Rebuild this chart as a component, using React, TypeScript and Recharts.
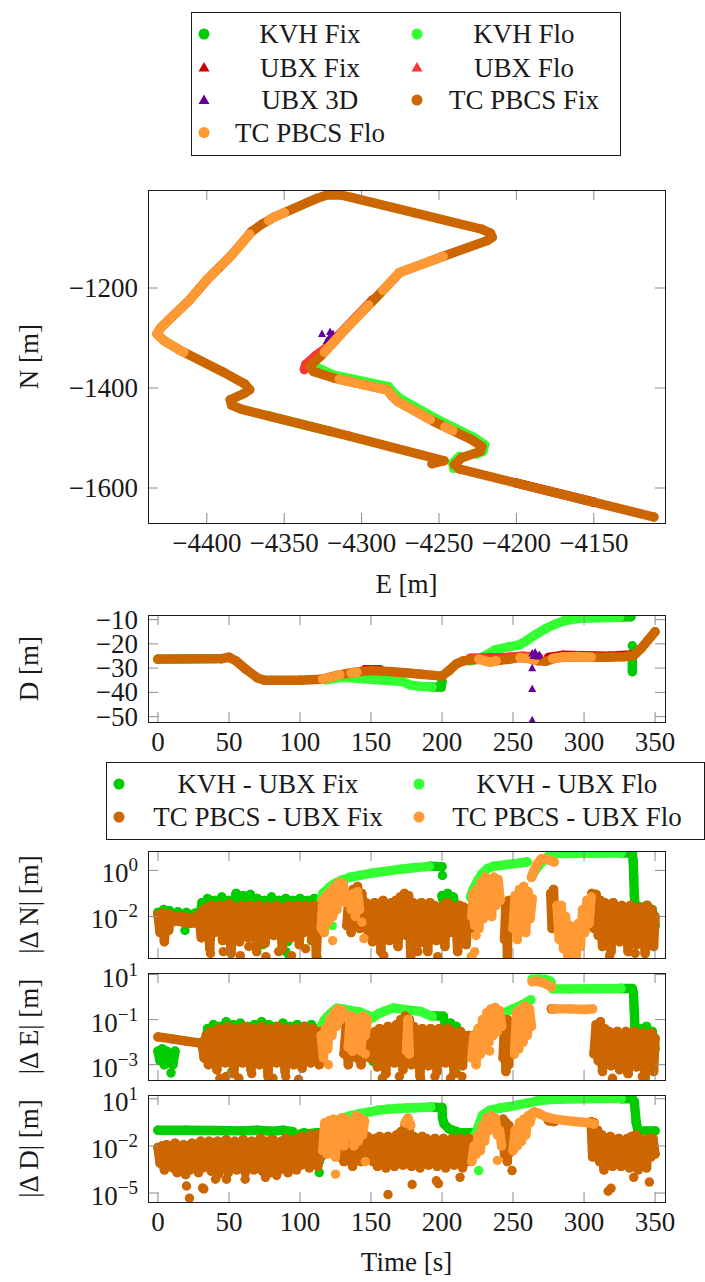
import { ScatterChart, Scatter, XAxis, YAxis } from "recharts";

const FONT = "'Liberation Serif', 'Times New Roman', serif";
const INK = "#1a1a1a";
const TICK = "#8c8c8c";

const KVH_FIX = "#00cc00";
const KVH_FLO = "#33ff33";
const UBX_FIX = "#cc0000";
const UBX_FLO = "#ff3333";
const UBX_3D = "#660099";
const TC_FIX = "#cc6600";
const TC_FLO = "#ff9933";

type Pt = [number, number];
type Seg = Pt[];

// ---- tick values
const eastTicks = [-4400, -4350, -4300, -4250, -4200, -4150];
const northTicks = [-1200, -1400, -1600];
const timeTicks = [0, 50, 100, 150, 200, 250, 300, 350];
const downTicks = [-10, -20, -30, -40, -50];
const dnTicks = [1, 0.01];
const deTicks = [10, 0.1, 0.001];
const ddTicks = [10, 0.01, 0.00001];

// ---- N/E track [E, N]
const tcFixNE: Seg[] = [[
  [-4254.5, -1551.5], [-4246.7, -1545.5], [-4308.9, -1495.5], [-4377.8, -1442.2], [-4384, -1434.2],
  [-4384.9, -1423.6], [-4375.6, -1410.3], [-4372.3, -1403.6], [-4375.6, -1391.6], [-4388.9, -1369],
  [-4417.8, -1323.7], [-4427.8, -1305], [-4432.2, -1291.7], [-4430, -1280.4], [-4411.1, -1223.8],
  [-4400, -1183.8], [-4384.5, -1135.9], [-4371.1, -1087.3], [-4364.5, -1072.6], [-4356.7, -1058.6],
  [-4328.9, -1020.7], [-4322.3, -1014], [-4313.4, -1014], [-4306.7, -1018.7], [-4222.3, -1082.6],
  [-4216.7, -1090.6], [-4215.6, -1098.6], [-4218.9, -1105.2], [-4248.9, -1138.5], [-4275.6, -1169.2],
  [-4278.9, -1180.5], [-4291.1, -1220.5], [-4308.9, -1277.1], [-4326.7, -1337], [-4331.1, -1349],
  [-4333.4, -1357], [-4331.1, -1367], [-4317.8, -1380.3], [-4283.4, -1403.6], [-4280, -1417],
  [-4276.7, -1427], [-4253.4, -1466.9], [-4228.9, -1503.5], [-4222.3, -1516.8], [-4223.4, -1526.8],
  [-4235.6, -1540.1], [-4240, -1553.5], [-4236.7, -1562.1], [-4111.2, -1658],
]];
const tcFloNE: Seg[] = [
  [[-4360, -1065], [-4356.7, -1058.6], [-4350, -1049.5]],
  [[-4372.4, -1092.2], [-4384.5, -1135.9], [-4390.7, -1155.1]],
  [[-4393.8, -1164.6], [-4400, -1183.8], [-4403.3, -1195.8]],
  [[-4406.1, -1205.8], [-4411.1, -1223.8], [-4420.6, -1252.1]],
  [[-4423.4, -1260.6], [-4430, -1280.4], [-4432.2, -1291.7], [-4427.8, -1305], [-4417.8, -1323.7], [-4414.9, -1328.2]],
  [[-4247.4, -1136.8], [-4275.6, -1169.2], [-4278.9, -1180.5], [-4286.2, -1204.5]],
  [[-4295.6, -1234.6], [-4308.9, -1277.1], [-4324, -1328]],
  [[-4314.4, -1382.6], [-4283.4, -1403.6], [-4280, -1417], [-4276.7, -1427], [-4255.7, -1462.9]],
  [[-4246.1, -1477.9], [-4241.2, -1485.2]],
];
const kvhFixNE: Seg[] = [[[-4320, -1486.9], [-4360, -1456]]];
const kvhFloNE: Seg[] = [
  [[-4330, -1357], [-4317.8, -1374.3], [-4282.7, -1397], [-4279, -1410.3], [-4275.6, -1420.3],
    [-4252.3, -1460.9], [-4227.8, -1498.2], [-4220.5, -1513.5], [-4221.6, -1526.8], [-4225.6, -1532.1]],
  [[-4236.7, -1536.8], [-4241.1, -1550.1], [-4240.5, -1560.8]],
];
const ubxFixNE: Seg[] = [[[-4200, -1590.1], [-4150, -1628.3]]];
const ubxFloNE: Seg[] = [[[-4337, -1363], [-4336, -1353], [-4329.5, -1335], [-4323, -1320], [-4310, -1279], [-4293, -1224]]];
const ubx3dNE: Seg = [[-4325.6, -1292], [-4320.4, -1288], [-4318.5, -1292], [-4322.5, -1306], [-4321, -1300], [-4319.5, -1296]];

// ---- Down vs time [t, D]
const tcFixD: Seg[] = [[
  [0, -26.3], [45, -26.1], [50, -25.5], [55, -27], [62, -30.5], [70, -34], [75, -35], [100, -35], [115, -34.6],
  [126, -33], [135, -32], [142, -31.5], [150, -31], [165, -31.5], [176, -32], [185, -32.5], [194, -33], [200, -33.3],
  [205, -31], [210, -28.3], [215, -27], [222, -26.5], [228, -26.4], [234, -27.4], [240, -26.8], [247, -26.4],
  [255, -25.6], [262, -26], [268, -27], [273, -27.2], [280, -25.8], [290, -25.3], [300, -25.4], [315, -25.5],
  [328, -25.3], [335, -24.8], [340, -22], [345, -18.5], [350, -15],
]];
const tcFloD: Seg[] = [
  [[116, -34.5], [122, -33.8], [128, -32.7]],
  [[136, -32], [140, -31.7]],
  [[226, -26.3], [230, -27], [234, -27.6], [238, -27]],
  [[255, -25.7], [260, -26], [265, -26.6]],
  [[278, -26], [285, -25.4], [295, -25.2], [305, -25.5]],
];
const kvhFixD: Seg[] = [
  [[0, -26.3], [45, -26.1]],
  [[193, -37.8], [199.5, -37.8], [200, -35.5]],
  [[326, -8.9], [333, -8.8]],
  [[334, -26.5], [334, -31.5]],
];
const kvhFixDotsD: Seg = [[334, -20.8]];
const kvhFloD: Seg[] = [
  [[118, -34.8], [130, -33.8], [145, -34.4], [160, -35], [172, -35.5], [178, -37], [185, -37.5], [193, -37.7]],
  [[220, -27], [226, -26], [231, -24.7], [237, -22.6], [247, -21.2], [255, -20.3], [260, -18.5], [265, -16.5],
    [273, -13.7], [280, -11.8], [286, -10.5], [295, -9.6], [310, -9.3], [325, -9]],
];
const ubxFixD: Seg[] = [
  [[275, -25.6], [285, -24.7], [300, -24.9], [318, -25.1], [333, -24.6]],
  [[146, -30.6], [156, -30.6]],
];
const ubxFloD: Seg[] = [[[220, -25.9], [232, -25.7], [245, -25.6], [257, -25.1], [268, -25.6]]];
const ubx3dD: Seg = [[263.5, -24], [263.5, -30], [263.5, -38.6], [263.5, -51.5], [264.5, -25], [265.5, -23.6], [266.5, -24.8], [267.5, -25.2], [268.5, -24.6]];

// ---- |dN| vs time
const kvhFixDN: Seg[] = [
  [[0, 0.015], [2, 0.004], [4, 0.02], [6, 0.006], [8, 0.018], [11, 0.008], [14, 0.016], [17, 0.009], [20, 0.015],
    [23, 0.008], [26, 0.014], [29, 0.006], [31, 0.04], [33, 0.008], [35, 0.06], [37, 0.01], [40, 0.05], [42, 0.008],
    [45, 0.07], [47, 0.01], [50, 0.05], [52, 0.008], [55, 0.1], [57, 0.01], [60, 0.08], [62, 0.008], [65, 0.09],
    [67, 0.01], [70, 0.06], [72, 0.008], [75, 0.05], [77, 0.01], [80, 0.07], [82, 0.008], [85, 0.05], [87, 0.01],
    [90, 0.06], [92, 0.008], [95, 0.05], [97, 0.01], [100, 0.06], [102, 0.008], [105, 0.05], [107, 0.01], [110, 0.06],
    [112, 0.01], [115, 0.05]],
  [[192, 1.5], [200, 1.45]],
  [[200, 0.08], [202, 0.02], [204, 0.1], [206, 0.02], [208, 0.07], [210, 0.015]],
  [[326, 5.7], [334, 5.8], [334.6, 2.5], [335, 0.5], [335.4, 0.08], [336, 0.03]],
  [[336, 0.03], [338, 0.008], [340, 0.025], [342, 0.006], [344, 0.03], [346, 0.005], [348, 0.02], [350, 0.004]],
];
const kvhFixDotsDN: Seg = [[19, 0.0025], [74, 0.0006], [90, 0.0003], [92.5, 0.00018], [108, 0.0009], [112, 0.00017], [91, 0.002], [91.5, 0.0008], [200.3, 0.6]];
const kvhFloDN: Seg[] = [
  [[115, 0.05], [116, 0.1], [119, 0.14], [121, 0.19], [125, 0.28], [129, 0.37], [135, 0.5], [142, 0.6], [150, 0.75],
    [160, 0.9], [170, 1.1], [180, 1.3], [191, 1.5]],
  [[220, 0.07], [222, 0.15], [225, 0.35], [228, 0.7], [232, 1.2], [236, 1.5], [246, 1.8], [255, 2.1], [260, 2.3]],
  [[263, 0.5], [266, 1.1], [270, 2.2], [276, 4.8], [280, 5.3], [300, 5.5], [326, 5.7]],
];
const kvhFloDotsDN: Seg = [[122.7, 0.004], [220.5, 0.00018]];
const tcFixDN: Seg[] = [
  [[0, 0.012], [1.5, 0.002], [3, 0.014], [4.5, 0.0008], [6, 0.013], [7.5, 0.0025], [9, 0.012], [11, 0.006], [13, 0.01],
    [15, 0.006], [17, 0.01], [19, 0.005], [21, 0.009], [23, 0.005], [25, 0.009], [27, 0.005], [29, 0.012], [30.5, 0.0012],
    [32, 0.02], [33.5, 0.003], [35, 0.025], [36.5, 0.0004], [38, 0.03], [39.5, 0.002], [41, 0.022], [42.5, 0.0035],
    [44, 0.03], [45.5, 0.0009], [47, 0.018], [48.5, 0.0025], [50, 0.035], [51.5, 0.00025], [53, 0.028], [54.5, 0.002],
    [56, 0.02], [57.5, 0.0008], [59, 0.03], [60.5, 0.003], [62, 0.018], [63.5, 0.0012], [65, 0.03], [66.5, 0.0035],
    [68, 0.022], [69.5, 0.0003], [71, 0.03], [72.5, 0.002], [74, 0.018], [75.5, 0.0007], [77, 0.028], [78.5, 0.003],
    [80, 0.022], [81.5, 0.0015], [83, 0.03], [84.5, 0.004], [86, 0.018], [87.5, 0.0004], [89, 0.025], [90.5, 0.0025],
    [92, 0.03], [93.5, 0.0012], [95, 0.022], [96.5, 0.0035], [98, 0.03], [99.5, 0.0006], [101, 0.02], [102.5, 0.002],
    [104, 0.03], [105.5, 0.003], [107, 0.022], [108.5, 0.0009], [110, 0.03], [111.5, 0.0002], [113, 0.028], [114.5, 0.003]],
  [[133, 0.004], [134.5, 0.08], [136, 0.002], [137.5, 0.15], [139, 0.006], [140.5, 0.2], [142, 0.003], [143.5, 0.1],
    [145, 0.01], [146.5, 0.04]],
  [[148, 0.002], [149.5, 0.03], [151, 0.0008], [152.5, 0.04], [154, 0.003], [155.5, 0.03], [157, 0.0003], [158.5, 0.05],
    [160, 0.002], [161.5, 0.03], [163, 0.0009], [164.5, 0.04], [166, 0.0035], [167.5, 0.05], [169, 0.0005], [170.5, 0.07],
    [172, 0.003], [173.5, 0.1], [175, 0.0015], [176.5, 0.08], [178, 0.0002], [179.5, 0.04], [181, 0.0025], [182.5, 0.03],
    [184, 0.0007], [185.5, 0.04], [187, 0.003], [188.5, 0.03], [190, 0.0003], [191.5, 0.04], [193, 0.002], [194.5, 0.03],
    [196, 0.0009], [197.5, 0.02], [199, 0.003], [200.5, 0.03], [202, 0.0005], [203.5, 0.04], [205, 0.002], [206.5, 0.03],
    [208, 0.0035], [209.5, 0.02], [211, 0.0003], [212.5, 0.03], [214, 0.0015], [215.5, 0.025], [217, 0.0006], [218.5, 0.02],
    [220, 0.003]],
  [[244, 0.001], [245, 0.04], [246, 0.0002], [247, 0.05], [248, 0.003], [249, 0.03]],
  [[276.5, 0.1], [277.5, 0.003], [278.5, 0.15], [279.5, 0.005]],
  [[304, 0.005], [305.5, 0.1], [307, 0.003], [308.5, 0.09], [310, 0.0015], [311.5, 0.05], [313, 0.0005], [314.5, 0.04],
    [316, 0.002], [317.5, 0.03], [319, 0.0003], [320.5, 0.04], [322, 0.0025], [323.5, 0.025], [325, 0.0008], [326.5, 0.03],
    [328, 0.003], [329.5, 0.02], [331, 0.0003], [332.5, 0.03], [334, 0.0015], [335.5, 0.02], [337, 0.0006], [338.5, 0.025],
    [340, 0.0025], [341.5, 0.02], [343, 0.00025], [344.5, 0.03], [346, 0.0015], [347.5, 0.02], [349, 0.0005], [350, 0.01]],
];
const tcFixDotsDN: Seg = [[37, 0.00025], [46, 0.0003], [58, 0.0002], [64, 0.0005], [76, 0.00018], [85, 0.0003], [94, 0.0002], [104, 0.0004], [159, 0.0002], [183, 0.0003], [197, 0.00018], [318, 0.0002], [336, 0.00025]];
const tcFloDN: Seg[] = [
  [[115, 0.003], [116, 0.05], [117, 0.002], [118.5, 0.08], [120, 0.006], [121.5, 0.12], [123, 0.01], [124.5, 0.2],
    [126, 0.02], [127.5, 0.3], [129, 0.05], [130.5, 0.25], [132, 0.04]],
  [[136, 0.02], [137.5, 0.1], [139, 0.01], [140.5, 0.12], [142, 0.02]],
  [[221, 0.01], [222, 0.1], [223, 0.004], [224.5, 0.15], [226, 0.003], [227.5, 0.3], [229, 0.008], [230.5, 0.5],
    [232, 0.02], [233.5, 0.3], [235, 0.01], [236.5, 0.5], [238, 0.03], [239.5, 0.4], [241, 0.05]],
  [[250, 0.003], [251.5, 0.08], [253, 0.001], [254.5, 0.15], [256, 0.005], [257.5, 0.2], [259, 0.002], [260.5, 0.12],
    [262, 0.008], [263.5, 0.06]],
  [[263, 0.5], [264.5, 0.9], [267, 1.9], [270, 3.2], [274, 3.0], [279, 2.3]],
  [[281, 0.03], [282.5, 0.001], [284, 0.03], [285.5, 0.0004], [287, 0.01], [288.5, 0.0002], [290, 0.004], [291.5, 0.0003],
    [293, 0.003], [294.5, 0.00017], [296, 0.005], [297.5, 0.0005], [299, 0.02], [300.5, 0.002], [302, 0.05], [303.5, 0.005],
    [305, 0.07]],
];
const tcFloDotsDN: Seg = [[143.6, 0.0056], [145, 0.0011], [123, 0.0009], [221, 0.00018], [223, 0.0003], [224, 0.0015]];

// ---- |dE| vs time
const kvhFixDE: Seg[] = [
  [[0, 0.004], [1.5, 0.0015], [3, 0.005], [4.5, 0.001], [6, 0.004], [7.5, 0.0012], [9, 0.003], [10.5, 0.001], [12, 0.004]],
  [[31, 0.01], [33, 0.002], [35, 0.04], [37, 0.005], [39, 0.06], [41, 0.004], [43, 0.05], [45, 0.004], [48, 0.08],
    [50, 0.005], [53, 0.06], [55, 0.004], [58, 0.07], [60, 0.005], [63, 0.05], [65, 0.004], [68, 0.06], [70, 0.005],
    [73, 0.08], [75, 0.004], [78, 0.06], [80, 0.005], [83, 0.05], [85, 0.004], [88, 0.07], [90, 0.005], [93, 0.05],
    [95, 0.004], [98, 0.06], [100, 0.005], [103, 0.05], [105, 0.004], [108, 0.06], [110, 0.005], [113, 0.04]],
  [[193, 0.15], [201, 0.14]],
  [[202, 0.08], [204, 0.01], [206, 0.07], [208, 0.008], [210, 0.05], [212, 0.01]],
  [[326, 2.4], [334, 2.4], [334.8, 1.5], [335.3, 0.3], [335.8, 0.05], [336.3, 0.02]],
  [[336, 0.03], [338, 0.01], [340, 0.04], [342, 0.008], [344, 0.05], [346, 0.01], [348, 0.03], [350, 0.005]],
];
const kvhFixDotsDE: Seg = [[9.2, 0.00043], [52, 0.0005], [151.4, 0.0014], [210, 0.00043], [343, 0.00025]];
const kvhFloDE: Seg[] = [
  [[115, 0.05], [117, 0.09], [119, 0.13], [122, 0.2], [126, 0.32], [130, 0.3], [136, 0.25], [142, 0.22], [148, 0.15],
    [151, 0.12], [155, 0.18], [159, 0.23], [166, 0.33], [174, 0.28], [185, 0.23], [193, 0.14]],
  [[220, 0.01], [222, 0.02], [226, 0.03], [234, 0.085], [241, 0.17], [249, 0.28], [257, 0.47], [262.5, 0.75]],
  [[263.5, 6.2], [268, 6.4], [273, 6], [276.5, 5], [278, 2.3], [290, 2.3], [310, 2.35], [326, 2.4]],
];
const kvhFloDotsDE: Seg = [[224.5, 0.008]];
const tcFixDE: Seg[] = [
  [[0, 0.017], [10, 0.014], [20, 0.011], [30, 0.009]],
  [[31, 0.01], [32.5, 0.002], [34, 0.02], [35.5, 0.001], [37, 0.03], [38.5, 0.0025], [40, 0.02], [41.5, 0.0006],
    [43, 0.04], [44.5, 0.002], [46, 0.03], [47.5, 0.0012], [49, 0.05], [50.5, 0.003], [52, 0.03], [53.5, 0.0004],
    [55, 0.04], [56.5, 0.002], [58, 0.03], [59.5, 0.0012], [61, 0.05], [62.5, 0.003], [64, 0.03], [65.5, 0.0006],
    [67, 0.04], [68.5, 0.0022], [70, 0.03], [71.5, 0.001], [73, 0.05], [74.5, 0.0028], [76, 0.03], [77.5, 0.0003],
    [79, 0.04], [80.5, 0.002], [82, 0.03], [83.5, 0.0012], [85, 0.05], [86.5, 0.0025], [88, 0.03], [89.5, 0.0005],
    [91, 0.04], [92.5, 0.002], [94, 0.03], [95.5, 0.001], [97, 0.04], [98.5, 0.003], [100, 0.03], [101.5, 0.0007],
    [103, 0.05], [104.5, 0.002], [106, 0.03], [107.5, 0.0012], [109, 0.04], [110.5, 0.0025], [112, 0.03], [113.5, 0.001],
    [115, 0.03]],
  [[131, 0.003], [132.5, 0.05], [134, 0.001], [135.5, 0.08], [137, 0.004], [138.5, 0.06], [140, 0.002], [141.5, 0.04],
    [143, 0.001], [144.5, 0.05], [146, 0.003], [147.5, 0.03], [149, 0.002]],
  [[150, 0.02], [151.5, 0.002], [153, 0.03], [154.5, 0.0008], [156, 0.04], [157.5, 0.0025], [159, 0.03], [160.5, 0.0004],
    [162, 0.05], [163.5, 0.002], [165, 0.04], [166.5, 0.0012], [168, 0.06], [169.5, 0.003], [171, 0.1], [172.5, 0.0006],
    [174, 0.14], [175.5, 0.0025], [177, 0.1], [178.5, 0.001], [180, 0.05], [181.5, 0.003], [183, 0.03], [184.5, 0.0003],
    [186, 0.04], [187.5, 0.002], [189, 0.03], [190.5, 0.0009], [192, 0.04], [193.5, 0.003], [195, 0.03], [196.5, 0.0005],
    [198, 0.04], [199.5, 0.002], [201, 0.03], [202.5, 0.0012], [204, 0.04], [205.5, 0.003], [207, 0.03], [208.5, 0.0004],
    [210, 0.02], [211.5, 0.002], [213, 0.03], [214.5, 0.0009], [216, 0.02], [217.5, 0.0025], [219, 0.02], [220.5, 0.003]],
  [[243, 0.002], [244, 0.08], [245, 0.0005], [246, 0.1], [247, 0.001], [248, 0.06], [249, 0.003]],
  [[277, 0.3], [279, 0.3]],
  [[307, 0.003], [308.5, 0.06], [310, 0.0015], [311.5, 0.08], [313, 0.0005], [314.5, 0.04], [316, 0.002], [317.5, 0.03],
    [319, 0.0009], [320.5, 0.025], [322, 0.003], [323.5, 0.03], [325, 0.0006], [326.5, 0.02], [328, 0.002], [329.5, 0.03],
    [331, 0.0004], [332.5, 0.02], [334, 0.0025], [335.5, 0.03], [337, 0.0008], [338.5, 0.02], [340, 0.002], [341.5, 0.025],
    [343, 0.0003], [344.5, 0.02], [346, 0.0015], [347.5, 0.025], [349, 0.0005], [350, 0.015]],
];
const tcFixDotsDE: Seg = [[36.6, 0.0011], [43.6, 0.00025], [48, 0.0003], [57, 0.00025], [66, 0.0004], [81, 0.00025], [90, 0.0003], [99, 0.00022], [158, 0.00025], [170, 0.0003], [185, 0.00022], [195, 0.0003], [206, 0.00025], [214, 0.0003], [320, 0.00025], [341, 0.0003]];
const tcFloDE: Seg[] = [
  [[115, 0.02], [116.5, 0.002], [118, 0.04], [119.5, 0.005], [121, 0.1], [122.5, 0.02], [124, 0.2], [125.5, 0.05],
    [127, 0.3], [128.5, 0.1], [130, 0.25]],
  [[134, 0.006], [135.5, 0.15], [137, 0.004], [138.5, 0.12], [140, 0.01], [141.5, 0.1], [143, 0.004], [144.5, 0.14],
    [146, 0.02], [147.5, 0.1]],
  [[175, 0.004], [176, 0.1], [177, 0.003]],
  [[221, 0.002], [222.5, 0.02], [224, 0.001], [225.5, 0.04], [227, 0.003], [228.5, 0.1], [230, 0.005], [231.5, 0.2],
    [233, 0.01], [234.5, 0.3], [236, 0.02], [237.5, 0.35], [239, 0.03], [240.5, 0.25], [242, 0.05]],
  [[251, 0.003], [252.5, 0.2], [254, 0.005], [255.5, 0.3], [257, 0.01], [258.5, 0.4], [260, 0.02], [261.5, 0.3], [263, 0.05]],
  [[263.5, 4.8], [266, 5.2], [270, 4.6], [274, 3.6], [277, 2.8]],
  [[278, 0.3], [290, 0.3], [300, 0.28], [306, 0.3]],
];
const tcFloDotsDE: Seg = [[120, 0.001], [146, 0.003], [233.6, 0.004]];

// ---- |dD| vs time
const kvhFixDD: Seg[] = [
  [[0, 0.1], [20, 0.1], [40, 0.095], [60, 0.09], [70, 0.1], [80, 0.085], [88, 0.1], [95, 0.08], [96.5, 0.05], [97, 0.002],
    [98, 0.05], [103, 0.07], [104.5, 0.009], [106, 0.06], [112, 0.07], [113.5, 0.001], [114.5, 0.07], [118, 0.1]],
  [[193, 2.9], [200, 2.8], [200.3, 0.6], [201.5, 0.25], [205, 0.12], [213, 0.07], [221, 0.07]],
  [[326, 10], [334, 10], [335.4, 6.5], [336.7, 0.32], [338, 0.09], [344, 0.09], [350, 0.09]],
];
const kvhFixDotsDD: Seg = [[113.6, 0.0002], [104.4, 0.008], [96.6, 0.001]];
const kvhFloDD: Seg[] = [
  [[118, 0.15], [120, 0.25], [124, 0.38], [129, 0.53], [135, 0.8], [142, 1.13], [150, 1.5], [155, 1.87], [162, 2.2],
    [168, 2.4], [175, 2.6], [181, 2.7], [192, 3.0]],
  [[222, 0.04], [223.2, 0.043], [225.8, 0.19], [228.4, 0.89], [233.6, 1.87], [240, 2.5], [246.7, 3.1], [253, 4],
    [259.7, 5.2], [266, 7], [272.8, 8.6], [285, 9.5], [298.9, 10], [312, 10.2], [326, 10.2]],
];
const kvhFloDotsDD: Seg = [[225.8, 0.00027]];
const tcFixDD: Seg[] = [
  [[0, 0.008], [1.5, 0.0008], [3, 0.01], [4.5, 0.0003], [6, 0.012], [7.5, 0.0006], [9, 0.01], [10.5, 0.0004], [12, 0.015],
    [13.5, 0.0002], [15, 0.01], [16.5, 0.0005], [18, 0.012], [19.5, 0.00015], [21, 0.01], [22.5, 0.0003], [24, 0.015],
    [25.5, 0.0005], [27, 0.01], [28.5, 0.0002], [30, 0.02], [31.5, 0.0004], [33, 0.012], [34.5, 0.0006], [36, 0.02],
    [37.5, 0.00025], [39, 0.015], [40.5, 0.0005], [42, 0.02], [43.5, 0.0003], [45, 0.015], [46.5, 0.0008], [48, 0.025],
    [49.5, 0.0002], [51, 0.015], [52.5, 0.0006], [54, 0.02], [55.5, 0.0003], [57, 0.015], [58.5, 0.0005], [60, 0.025],
    [61.5, 0.0002], [63, 0.015], [64.5, 0.0007], [66, 0.02], [67.5, 0.0003], [69, 0.015], [70.5, 0.0005], [72, 0.03],
    [73.5, 0.00025], [75, 0.02], [76.5, 0.0008], [78, 0.02], [79.5, 0.0002], [81, 0.025], [82.5, 0.0006], [84, 0.015],
    [85.5, 0.0003], [87, 0.02], [88.5, 0.0005], [90, 0.03], [91.5, 0.0002], [93, 0.02], [94.5, 0.0007], [96, 0.025],
    [97.5, 0.0003], [99, 0.03], [100.5, 0.0006], [102, 0.04], [103.5, 0.001], [105, 0.03], [106.5, 0.0004], [108, 0.05],
    [109.5, 0.001], [111, 0.04], [112.5, 0.0005], [114, 0.06], [115, 0.002]],
  [[128, 0.002], [129.5, 0.1], [131, 0.001], [132.5, 0.3], [134, 0.003], [135.5, 0.15], [137, 0.0005], [138.5, 0.2],
    [140, 0.002], [141.5, 0.1], [143, 0.001], [144.5, 0.05], [146, 0.003], [147.5, 0.04], [149, 0.0015]],
  [[150, 0.02], [151.5, 0.001], [153, 0.03], [154.5, 0.0005], [156, 0.04], [157.5, 0.002], [159, 0.03], [160.5, 0.0004],
    [162, 0.04], [163.5, 0.001], [165, 0.03], [166.5, 0.0005], [168, 0.05], [169.5, 0.002], [171, 0.08], [172.5, 0.0006],
    [174, 0.2], [175.5, 0.003], [177, 0.1], [178.5, 0.0005], [180, 0.04], [181.5, 0.002], [183, 0.03], [184.5, 0.0004],
    [186, 0.04], [187.5, 0.001], [189, 0.03], [190.5, 0.0006], [192, 0.02], [193.5, 0.002], [195, 0.03], [196.5, 0.0005],
    [198, 0.02], [199.5, 0.0015], [201, 0.03], [202.5, 0.0004], [204, 0.02], [205.5, 0.001], [207, 0.03], [208.5, 0.0006],
    [210, 0.02], [211.5, 0.0015], [213, 0.03], [214.5, 0.0004], [216, 0.02], [217.5, 0.001], [219, 0.03], [220.5, 0.002]],
  [[242, 0.01], [243, 0.5], [244, 0.003], [245, 0.3], [246, 0.001], [247, 0.2], [248, 0.004], [249, 0.1], [250, 0.01]],
  [[275, 0.4], [279, 0.35]],
  [[305, 0.35], [306, 0.002], [307, 0.3], [308, 0.005], [309.5, 0.1], [311, 0.001], [312.5, 0.05], [314, 0.0003],
    [315.5, 0.03], [317, 0.001], [318.5, 0.04], [320, 0.0005], [321.5, 0.025], [323, 0.002], [324.5, 0.03], [326, 0.0005],
    [327.5, 0.02], [329, 0.0015], [330.5, 0.03], [332, 0.0004], [333.5, 0.04], [335, 0.002], [336.5, 0.05], [338, 0.0003],
    [339.5, 0.03], [341, 0.001], [342.5, 0.02], [344, 0.0004], [345.5, 0.03], [347, 0.002], [348.5, 0.03], [350, 0.003]],
];
const tcFixDotsDD: Seg = [
  [20.1, 0.000028], [22.2, 0.0000047], [31.4, 0.000021], [32.3, 0.000018], [40.5, 0.000076], [48.3, 0.000076],
  [61.4, 0.000076], [75.7, 0.0001], [83.6, 0.00013], [43, 0.00016], [162, 0.000008], [179, 0.000035], [196, 0.00006],
  [197.5, 0.00004], [212.7, 0.0001], [249.3, 0.00027], [317, 0.000013], [319, 0.00002], [346, 0.00005], [335, 0.0001],
];
const tcFloDD: Seg[] = [
  [[116, 0.005], [117.5, 0.3], [119, 0.003], [120.5, 0.4], [122, 0.01], [123.5, 0.5], [125, 0.002], [126.5, 0.4],
    [128, 0.02], [129.5, 0.6], [131, 0.01], [132.5, 0.5], [134, 0.05]],
  [[138, 0.01], [139.5, 0.8], [141, 0.02], [142.5, 0.6], [144, 0.05], [145.5, 0.4]],
  [[174, 0.3], [176, 0.6], [178, 0.2]],
  [[221, 0.001], [222.5, 0.01], [224, 0.003], [225.5, 0.05], [227, 0.005], [228.5, 0.2], [230, 0.02], [231.5, 0.6],
    [233, 0.1], [234.5, 0.8], [236, 0.2], [237.5, 0.6], [239, 0.05], [240.5, 0.1], [242, 0.01]],
  [[250, 0.005], [251.5, 0.1], [253, 0.01], [254.5, 0.3], [256, 0.02], [257.5, 0.5], [259, 0.05], [260.5, 0.8],
    [262, 0.3], [263.5, 1.2], [265, 1.45]],
  [[265, 1.45], [268, 1.2], [273, 0.7], [280, 0.5], [286, 0.42], [293, 0.36], [299, 0.32], [304, 0.3], [307, 0.25]],
];
const tcFloDotsDD: Seg = [[125, 0.00016], [146, 0.001], [239, 0.0012]];

// ---- legends
const trackLegend = [
  { name: "KVH Fix", color: KVH_FIX, tri: false },
  { name: "KVH Flo", color: KVH_FLO, tri: false },
  { name: "UBX Fix", color: UBX_FIX, tri: true },
  { name: "UBX Flo", color: UBX_FLO, tri: true },
  { name: "UBX 3D", color: UBX_3D, tri: true },
  { name: "TC PBCS Fix", color: TC_FIX, tri: false },
  { name: "TC PBCS Flo", color: TC_FLO, tri: false },
];
const diffLegend = [
  { name: "KVH - UBX Fix", color: KVH_FIX, tri: false },
  { name: "KVH - UBX Flo", color: KVH_FLO, tri: false },
  { name: "TC PBCS - UBX Fix", color: TC_FIX, tri: false },
  { name: "TC PBCS - UBX Flo", color: TC_FLO, tri: false },
];

const R = 4.7;
const PLOT_L = 148;
const PLOT_R = 665;
const PAD = 18;
const FS = 27;

const toXY = (s: Seg) => s.map(([x, y]) => ({ x, y }));
const minus = (v: number) => (v < 0 ? "\u2212" + Math.abs(v) : String(v));
const expo = (v: number) => {
  const e = Math.round(Math.log10(v));
  return e < 0 ? "\u2212" + -e : String(e);
};

function traces(key: string, segs: Seg[], color: string) {
  return segs.map((s, i) => (
    <Scatter
      key={key + i}
      data={toXY(s)}
      fill={color}
      shape={(p: any) => <circle cx={p.cx} cy={p.cy} r={R} fill={color} />}
      line={{ stroke: color, strokeWidth: 2 * R, strokeLinecap: "round", strokeLinejoin: "round" }}
      isAnimationActive={false}
    />
  ));
}

function spots(key: string, s: Seg, color: string, tri = false) {
  return (
    <Scatter
      key={key}
      data={toXY(s)}
      fill={color}
      shape={(p: any) =>
        tri ? (
          <path d={`M${p.cx},${p.cy - 4.5}L${p.cx + 4},${p.cy + 3}L${p.cx - 4},${p.cy + 3}Z`} fill={color} />
        ) : (
          <circle cx={p.cx} cy={p.cy} r={R} fill={color} />
        )
      }
      isAnimationActive={false}
    />
  );
}

interface PanelProps {
  top: number;
  frameH: number;
  xh: number;
  xDomain: [number, number];
  xTicks: number[];
  yDomain: [number, number];
  yTicks: number[];
  log?: boolean;
  xLabels?: boolean;
  xTitle?: string;
  xTitleGap?: number;
  yTitle: string;
  children: any;
}

function Panel({ top, frameH, xh, xDomain, xTicks, yDomain, yTicks, log, xLabels, xTitle, xTitleGap = 70, yTitle, children }: PanelProps) {
  const H = PAD + frameH + xh;
  const bottom = PAD + frameH;
  const mid = (PLOT_L + PLOT_R) / 2;
  const xTick = (p: any) => (
    <g>
      <line x1={p.x} x2={p.x} y1={bottom} y2={bottom - 10} stroke={TICK} />
      <line x1={p.x} x2={p.x} y1={PAD} y2={PAD + 10} stroke={TICK} />
      {xLabels && (
        <text x={p.x} y={bottom + 29} textAnchor="middle" fontFamily={FONT} fontSize={FS} fill={INK}>
          {minus(p.payload.value)}
        </text>
      )}
    </g>
  );
  const yTick = (p: any) => (
    <g>
      <line x1={PLOT_L} x2={PLOT_L + 10} y1={p.y} y2={p.y} stroke={TICK} />
      <line x1={PLOT_R} x2={PLOT_R - 10} y1={p.y} y2={p.y} stroke={TICK} />
      {log ? (
        <text x={138} y={p.y + 12} textAnchor="end" fontFamily={FONT} fontSize={FS} fill={INK}>
          10<tspan dy={-11} fontSize={19}>{expo(p.payload.value)}</tspan>
        </text>
      ) : (
        <text x={138} y={p.y + 9} textAnchor="end" fontFamily={FONT} fontSize={FS} fill={INK}>
          {minus(p.payload.value)}
        </text>
      )}
    </g>
  );
  const yLab = () => {
    const cy = PAD + frameH / 2;
    return (
      <text x={38} y={cy} transform={`rotate(-90 38 ${cy})`} textAnchor="middle" fontFamily={FONT} fontSize={FS} fill={INK}>
        {yTitle}
      </text>
    );
  };
  const xLab = () => (
    <text x={mid} y={bottom + xTitleGap} textAnchor="middle" fontFamily={FONT} fontSize={FS} fill={INK}>
      {xTitle}
    </text>
  );
  return (
    <div style={{ position: "absolute", left: 0, top: top - PAD, width: 705, height: H }}>
      <ScatterChart width={705} height={H} margin={{ top: PAD, right: 705 - PLOT_R, bottom: 0, left: 0 }}>
        <XAxis
          type="number"
          dataKey="x"
          domain={xDomain}
          ticks={xTicks}
          interval={0}
          allowDataOverflow
          height={xh}
          tickLine={false}
          axisLine={false}
          tick={xTick}
          label={xTitle ? xLab : undefined}
        />
        <YAxis
          type="number"
          dataKey="y"
          scale={log ? "log" : "linear"}
          domain={yDomain}
          ticks={yTicks}
          interval={0}
          allowDataOverflow
          width={PLOT_L}
          tickLine={false}
          axisLine={false}
          tick={yTick}
          label={yLab}
        />
        {children}
      </ScatterChart>
      <div
        style={{
          position: "absolute",
          left: PLOT_L,
          top: PAD,
          width: PLOT_R - PLOT_L + 1,
          height: frameH + 1,
          border: `1px solid ${INK}`,
          boxSizing: "border-box",
          pointerEvents: "none",
        }}
      />
    </div>
  );
}

interface LegendProps {
  left: number;
  top: number;
  width: number;
  height: number;
  items: { name: string; color: string; tri: boolean }[];
  marks: number[];
  texts: number[];
  rows: number[];
}

function LegendBox({ left, top, width, height, items, marks, texts, rows }: LegendProps) {
  return (
    <svg style={{ position: "absolute", left, top }} width={width + 1} height={height + 1}>
      <rect x={0.5} y={0.5} width={width - 1} height={height} fill="#fff" stroke={INK} />
      {items.map((it, i) => {
        const col = i % 2;
        const row = Math.floor(i / 2);
        const mx = marks[col];
        const my = rows[row];
        return (
          <g key={it.name}>
            {it.tri ? (
              <path d={`M${mx},${my - 5.5}L${mx + 5.5},${my + 4}L${mx - 5.5},${my + 4}Z`} fill={it.color} />
            ) : (
              <circle cx={mx} cy={my} r={5.5} fill={it.color} />
            )}
            <text x={texts[col]} y={my + 9} textAnchor="middle" fontFamily={FONT} fontSize={FS} fill={INK}>
              {it.name}
            </text>
          </g>
        );
      })}
    </svg>
  );
}

const TIME_DOMAIN: [number, number] = [-7, 357];

export default function App() {
  return (
    <div style={{ position: "absolute", left: 0, top: 0, width: 705, height: 1282, background: "#fff", overflow: "hidden" }}>
      <LegendBox left={191} top={12} width={430} height={143} items={trackLegend} marks={[13, 226]} texts={[119, 333]} rows={[22, 55.5, 88, 120.5]} />

      <Panel top={190} frameH={333} xh={80} xDomain={[-4438, -4104]} xTicks={eastTicks} yDomain={[-1670, -1004]} yTicks={northTicks} xLabels xTitle="E [m]" xTitleGap={70} yTitle="N [m]">
        {traces("kfx", kvhFixNE, KVH_FIX)}
        {traces("kfl", kvhFloNE, KVH_FLO)}
        {traces("ufx", ubxFixNE, UBX_FIX)}
        {traces("ufl", ubxFloNE, UBX_FLO)}
        {spots("u3d", ubx3dNE, UBX_3D, true)}
        {traces("tfx", tcFixNE, TC_FIX)}
        {traces("tfl", tcFloNE, TC_FLO)}
      </Panel>

      <Panel top={615} frameH={107} xh={40} xDomain={TIME_DOMAIN} xTicks={timeTicks} yDomain={[-52.2, -8.1]} yTicks={downTicks} xLabels yTitle="D [m]">
        {traces("kfx", kvhFixD, KVH_FIX)}
        {spots("kfxd", kvhFixDotsD, KVH_FIX)}
        {traces("kfl", kvhFloD, KVH_FLO)}
        {traces("ufx", ubxFixD, UBX_FIX)}
        {traces("ufl", ubxFloD, UBX_FLO)}
        {traces("tfx", tcFixD, TC_FIX)}
        {traces("tfl", tcFloD, TC_FLO)}
        {spots("u3d", ubx3dD, UBX_3D, true)}
      </Panel>

      <LegendBox left={106} top={762} width={599} height={77} items={diffLegend} marks={[13, 313]} texts={[162, 461]} rows={[22, 55]} />

      <Panel top={851} frameH={107} xh={2} xDomain={TIME_DOMAIN} xTicks={timeTicks} yDomain={[1.58e-4, 6.92]} yTicks={dnTicks} log yTitle="|Δ N| [m]">
        {traces("kfx", kvhFixDN, KVH_FIX)}
        {spots("kfxd", kvhFixDotsDN, KVH_FIX)}
        {traces("kfl", kvhFloDN, KVH_FLO)}
        {spots("kfld", kvhFloDotsDN, KVH_FLO)}
        {traces("tfx", tcFixDN, TC_FIX)}
        {spots("tfxd", tcFixDotsDN, TC_FIX)}
        {traces("tfl", tcFloDN, TC_FLO)}
        {spots("tfld", tcFloDotsDN, TC_FLO)}
      </Panel>

      <Panel top={973} frameH={107} xh={2} xDomain={TIME_DOMAIN} xTicks={timeTicks} yDomain={[2.09e-4, 11.7]} yTicks={deTicks} log yTitle="|Δ E| [m]">
        {traces("kfx", kvhFixDE, KVH_FIX)}
        {spots("kfxd", kvhFixDotsDE, KVH_FIX)}
        {traces("kfl", kvhFloDE, KVH_FLO)}
        {spots("kfld", kvhFloDotsDE, KVH_FLO)}
        {traces("tfx", tcFixDE, TC_FIX)}
        {spots("tfxd", tcFixDotsDE, TC_FIX)}
        {traces("tfl", tcFloDE, TC_FLO)}
        {spots("tfld", tcFloDotsDE, TC_FLO)}
      </Panel>

      <Panel top={1095} frameH={107} xh={80} xDomain={TIME_DOMAIN} xTicks={timeTicks} yDomain={[2.69e-6, 17.4]} yTicks={ddTicks} log xLabels xTitle="Time [s]" xTitleGap={69} yTitle="|Δ D| [m]">
        {traces("kfx", kvhFixDD, KVH_FIX)}
        {spots("kfxd", kvhFixDotsDD, KVH_FIX)}
        {traces("kfl", kvhFloDD, KVH_FLO)}
        {spots("kfld", kvhFloDotsDD, KVH_FLO)}
        {traces("tfx", tcFixDD, TC_FIX)}
        {spots("tfxd", tcFixDotsDD, TC_FIX)}
        {traces("tfl", tcFloDD, TC_FLO)}
        {spots("tfld", tcFloDotsDD, TC_FLO)}
      </Panel>
    </div>
  );
}
